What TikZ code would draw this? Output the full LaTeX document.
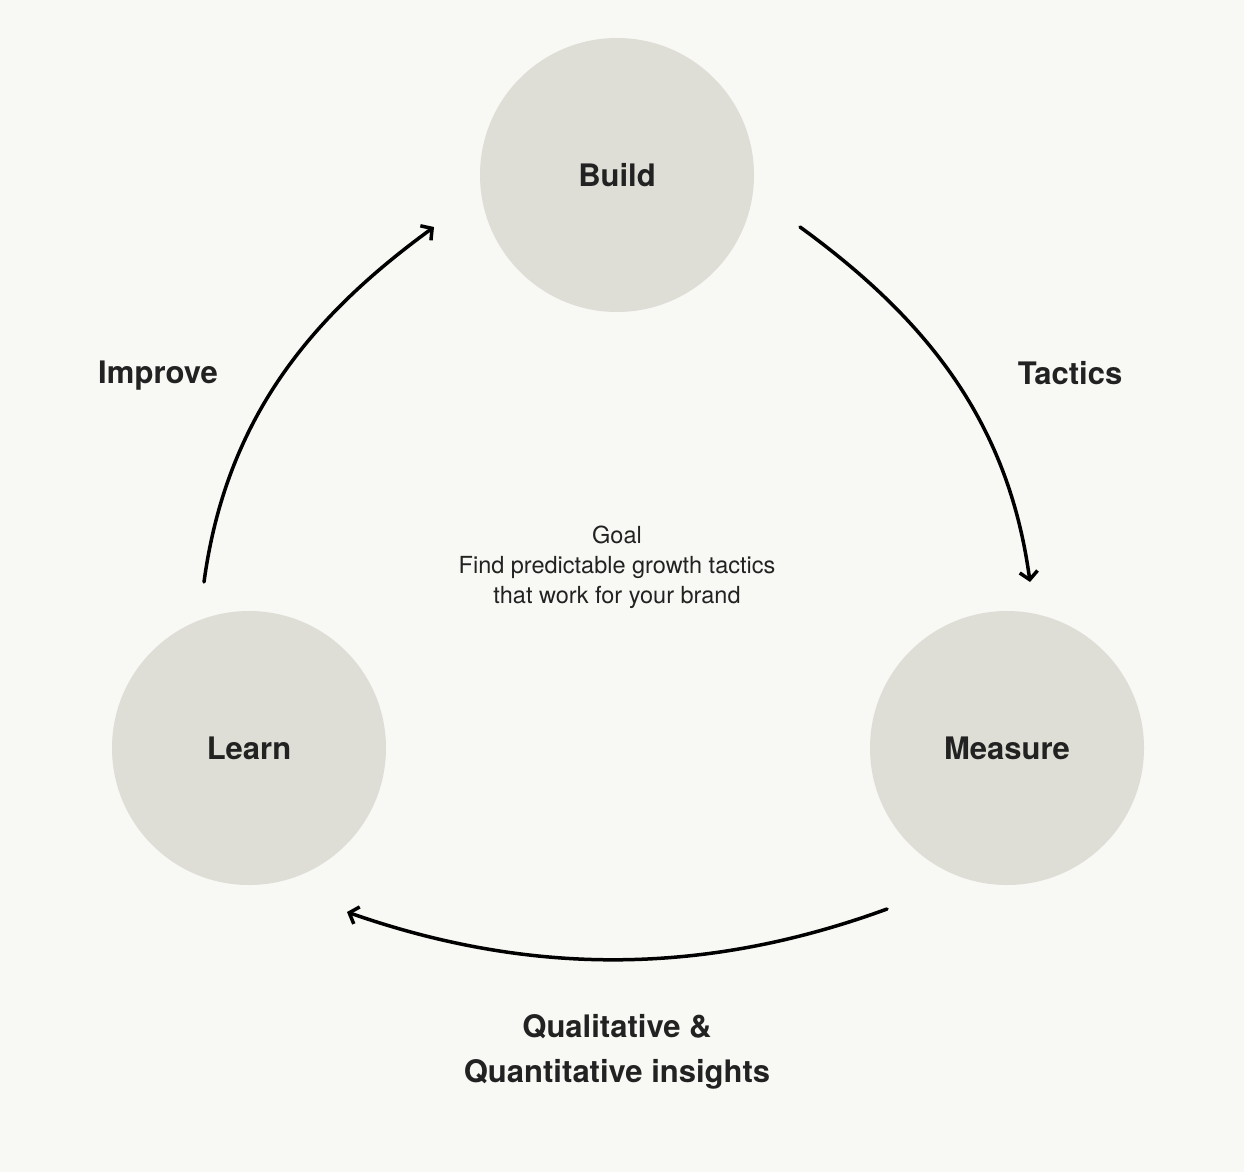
\documentclass[tikz,border=0pt]{standalone}
\usepackage{fontspec}
\setmainfont{TeX Gyre Heros}
\usetikzlibrary{arrows.meta}
\definecolor{bgc}{HTML}{F8F8F4}
\definecolor{circc}{HTML}{DFDED6}
\definecolor{inkc}{HTML}{222222}
\tikzset{
  stage/.style={circle, fill=circc, draw=none, minimum size=274pt, inner sep=0pt,
    text=inkc, font=\fontsize{31}{36}\selectfont\bfseries},
  lbl/.style={text=inkc, font=\fontsize{31}{36}\selectfont\bfseries, anchor=base, inner sep=0pt},
  goaltext/.style={text=inkc, font=\fontsize{23.5}{28}\selectfont, anchor=base, inner sep=0pt},
  flow/.style={draw=black, line width=3.5pt, line cap=round,
    -{Straight Barb[length=8pt,width=18pt,line width=3.5pt]}}
}
\begin{document}
\begin{tikzpicture}[x=1pt,y=-1pt]
\useasboundingbox (0,0) rectangle (1244,1172);
\fill[bgc] (0,0) rectangle (1244,1172);

\node[stage] (build) at (617,175) {Build};
\node[stage] (learn) at (249,748) {Learn};
\node[stage] (measure) at (1007,748) {Measure};

\node[lbl] (tactics) at (1070,384) {Tactics};
\node[lbl] (improve) at (158,383) {Improve};
\node[lbl] (qual1) at (617,1037) {Qualitative \&};
\node[lbl] (qual2) at (617,1082) {Quantitative insights};

\node[goaltext] (goal1) at (617,543) {Goal};
\node[goaltext] (goal2) at (617,573) {Find predictable growth tactics};
\node[goaltext] (goal3) at (617,603) {that work for your brand};

\coordinate (bmS) at (800,227);
\coordinate (bmE) at (1030,582);
\coordinate (mlS) at (887,909);
\coordinate (mlE) at (347,912);
\coordinate (lbS) at (204,582);
\coordinate (lbE) at (434,227);

\draw[flow] (bmS) .. controls (925,318) and (1008,420) .. (bmE);
\draw[flow] (mlS) .. controls (704,976) and (530,976) .. (mlE);
\draw[flow] (lbS) .. controls (226,420) and (309,318) .. (lbE);
\end{tikzpicture}
\end{document}
